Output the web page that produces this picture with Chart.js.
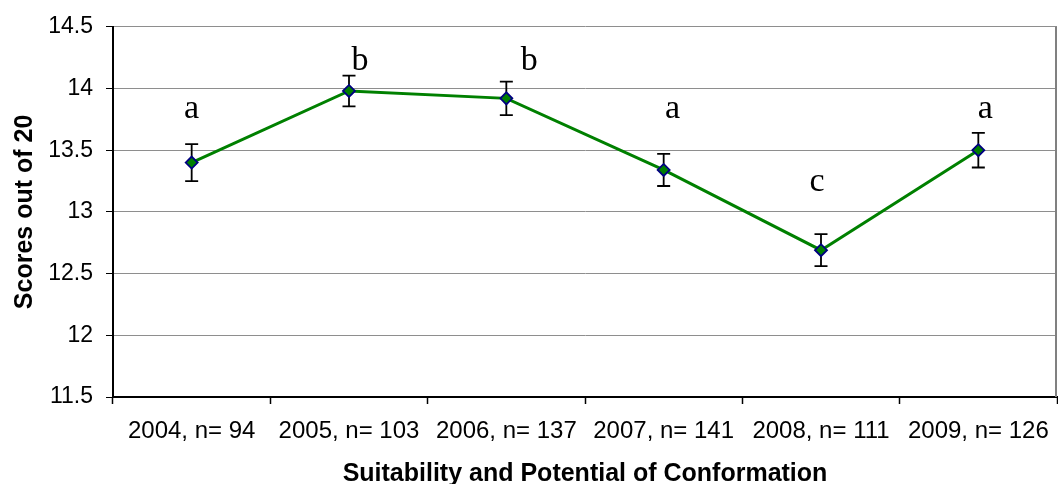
<!DOCTYPE html>
<html>
<head>
<meta charset="utf-8">
<script src="https://cdn.jsdelivr.net/npm/chart.js@4/dist/chart.umd.min.js"></script>
<style>
  html, body { margin: 0; padding: 0; background: #fff; }
  #wrap { width: 1058px; height: 484px; position: relative; }
</style>
</head>
<body>
<div id="wrap"><canvas id="c" width="1058" height="484"></canvas></div>
<script>
// Mean conformation scores per year with standard errors and group letters
const categories = ['2004, n= 94', '2005, n= 103', '2006, n= 137', '2007, n= 141', '2008, n= 111', '2009, n= 126'];
const means = [13.40, 13.98, 13.92, 13.34, 12.69, 13.50];
const errors = [0.15, 0.125, 0.135, 0.13, 0.13, 0.14];
const groupLetters = ['a', 'b', 'b', 'a', 'c', 'a'];
// vertical level (score units) at which each group letter sits
const letterLevels = [13.76, 14.15, 14.15, 13.76, 13.17, 13.76];
const yTicks = [11.5, 12, 12.5, 13, 13.5, 14, 14.5];

const SANS = 'Arial, "Liberation Sans", sans-serif';
const SERIF = '"Times New Roman", "Liberation Serif", serif';

// draws the error bars, the group letters and the right edge of the plot frame
const extras = {
  id: 'extras',
  beforeDatasetsDraw(chart) {
    const ctx = chart.ctx;
    const x = chart.scales.x, y = chart.scales.y;
    ctx.save();
    ctx.strokeStyle = '#000';
    ctx.lineWidth = 1.8;
    means.forEach((m, i) => {
      const px = x.getPixelForValue(i);
      const top = y.getPixelForValue(m + errors[i]);
      const bot = y.getPixelForValue(m - errors[i]);
      ctx.beginPath();
      ctx.moveTo(px, top); ctx.lineTo(px, bot);
      ctx.moveTo(px - 6.5, top); ctx.lineTo(px + 6.5, top);
      ctx.moveTo(px - 6.5, bot); ctx.lineTo(px + 6.5, bot);
      ctx.stroke();
    });
    ctx.restore();
  },
  afterDatasetsDraw(chart, args, opts) {
    const ctx = chart.ctx;
    const x = chart.scales.x, y = chart.scales.y;
    const a = chart.chartArea;
    ctx.save();
    ctx.strokeStyle = '#808080';
    ctx.lineWidth = 2;
    ctx.beginPath();
    ctx.moveTo(a.right - 1, a.top);
    ctx.lineTo(a.right - 1, a.bottom);
    ctx.stroke();
    ctx.fillStyle = '#000';
    ctx.font = '34px ' + SERIF;
    ctx.textAlign = 'center';
    ctx.textBaseline = 'alphabetic';
    groupLetters.forEach((t, i) => {
      ctx.fillText(t, x.getPixelForValue(i) + opts.nudge[i], y.getPixelForValue(letterLevels[i]));
    });
    ctx.restore();
  }
};

new Chart(document.getElementById('c'), {
  type: 'line',
  data: {
    labels: categories,
    datasets: [{
      data: means,
      borderColor: '#008000',
      borderWidth: 3,
      pointStyle: 'rectRot',
      pointRadius: 6,
      pointBackgroundColor: '#008000',
      pointBorderColor: '#000080',
      pointBorderWidth: 1.8,
      tension: 0
    }]
  },
  options: {
    responsive: false,
    animation: false,
    layout: { autoPadding: false, padding: { top: 26, right: 1, left: 0, bottom: 0 } },
    plugins: {
      legend: { display: false },
      tooltip: { enabled: false },
      extras: { nudge: [0, 11, 23, 9, -4, 7] }
    },
    scales: {
      x: {
        type: 'category',
        offset: true,
        grid: {
          offset: true,
          drawOnChartArea: false,
          drawTicks: true,
          tickLength: 7,
          tickColor: '#000',
          tickWidth: 1.5
        },
        border: { color: '#000', width: 2 },
        ticks: {
          color: '#000',
          font: { family: SANS, size: 24, lineHeight: 1.95 },
          padding: 4,
          maxRotation: 0,
          autoSkip: false
        },
        title: {
          display: true,
          text: 'Suitability and Potential of Conformation',
          color: '#000',
          font: { family: SANS, size: 25, weight: 'bold' },
          padding: { top: 6, bottom: -5 }
        },
        afterFit(scale) {
          scale.height = 87;
          scale.paddingLeft = 0;
          scale.paddingRight = 0;
        }
      },
      y: {
        min: 11.5,
        max: 14.5,
        afterBuildTicks(scale) { scale.ticks = yTicks.map(v => ({ value: v })); },
        grid: {
          color: '#8e8e8e',
          lineWidth: 1,
          tickLength: 7,
          tickColor: '#000'
        },
        border: { color: '#000', width: 2 },
        ticks: {
          color: '#000',
          font: { family: SANS, size: 23 },
          padding: 13,
          callback: v => String(v)
        },
        title: {
          display: true,
          text: 'Scores out of 20',
          color: '#000',
          font: { family: SANS, size: 25, weight: 'bold' },
          padding: { top: 10, bottom: 0 }
        },
        afterFit(scale) { scale.width = 113; }
      }
    }
  },
  plugins: [extras]
});
</script>
</body>
</html>
